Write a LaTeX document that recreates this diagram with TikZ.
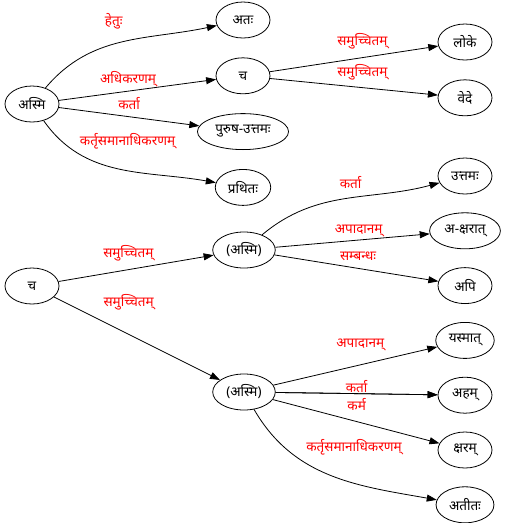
\documentclass[tikz,border=0pt]{standalone}
\usepackage{fontspec}
\setmainfont[Script=Devanagari]{Noto Sans}
\usepackage{tikz}
\usetikzlibrary{positioning, shapes.geometric, arrows.meta}

\begin{document}
\begin{tikzpicture}[x=1pt, y=-1pt, font=\fontsize{13.5}{15}\selectfont,
    word/.style={draw, ellipse, line width=0.8pt, inner xsep=4.5pt, inner ysep=1pt, minimum width=54pt, minimum height=36pt},
    rel/.style={text=red, inner sep=1pt},
    dep/.style={line width=0.8pt, -{Triangle[length=10pt, width=7pt]}},
    node distance=19pt]
  \useasboundingbox (0,0) rectangle (507,523);
  % first sentence
  \node[word] (asmiA) at (32,104) {अस्मि};
  \node[word] (atah) at (243,20) {अतः};
  \node[word, below=of atah] (caA) {च};
  \node[word, below=of caA] (purusha) {पुरुष-उत्तमः};
  \node[word, below=of purusha] (prathita) {प्रथितः};
  \node[word] (loke) at (465,42) {लोके};
  \node[word, below=of loke] (vede) {वेदे};
  % second sentence
  \node[word] (caB) at (32,286) {च};
  \node[word] (asmiB) at (244,250) {(अस्मि)};
  \node[word] (asmiC) at (244,392) {(अस्मि)};
  \node[word] (uttama) at (465,176) {उत्तमः};
  \node[word, below=18pt of uttama] (aksharat) {अ-क्षरात्};
  \node[word, below=18pt of aksharat] (api) {अपि};
  \node[word, below=18pt of api] (yasmat) {यस्मात्};
  \node[word, below=18pt of yasmat] (aham) {अहम्};
  \node[word, below=18pt of aham] (ksharam) {क्षरम्};
  \node[word, below=18pt of ksharam] (atita) {अतीतः};

  \draw[dep] (asmiA) to[out=50, in=192] node[rel, pos=0.45, above=14pt] (hetu) {हेतुः} (atah);
  \draw[dep] (asmiA) -- node[rel, pos=0.44, above=3pt] (adhikarana) {अधिकरणम्} (caA);
  \draw[dep] (asmiA) -- node[rel, pos=0.5, above=6pt] (kartaA) {कर्ता} (purusha);
  \draw[dep] (asmiA) to[out=-55, in=170] node[rel, pos=0.55, above=20pt] (samanaA) {कर्तृसमानाधिकरणम्} (prathita);
  \draw[dep] (caA) -- node[rel, pos=0.55, above=7pt] (samuA) {समुच्चितम्} (loke);
  \draw[dep] (caA) -- node[rel, pos=0.55, above=6pt] (samuB) {समुच्चितम्} (vede);

  \draw[dep] (caB) -- node[rel, pos=0.45, above=7pt] (samuC) {समुच्चितम्} (asmiB);
  \draw[dep] (caB) -- node[rel, pos=0.45, above=23pt] (samuD) {समुच्चितम्} (asmiC);
  \draw[dep] (asmiB) to[out=40, in=195] node[rel, pos=0.53, above=8pt] (kartaB) {कर्ता} (uttama);
  \draw[dep] (asmiB) -- node[rel, pos=0.54, above=2pt] (apadanaA) {अपादानम्} (aksharat);
  \draw[dep] (asmiB) -- node[rel, pos=0.51, above=6pt] (sambandha) {सम्बन्धः} (api);
  \draw[dep] (asmiC) -- node[rel, pos=0.53, above=13pt] (apadanaB) {अपादानम्} (yasmat);
  \draw[dep] (asmiC) -- node[rel, pos=0.5, above=0pt] (kartaC) {कर्ता} (aham);
  \draw[dep] (asmiC) -- node[rel, pos=0.5, below=3pt] (karma) {कर्म} (aham);
  \draw[dep] (asmiC) -- (ksharam);
  \draw[dep] (asmiC) to[out=-60, in=170] node[rel, pos=0.62, above=27pt] (samanaB) {कर्तृसमानाधिकरणम्} (atita);
\end{tikzpicture}
\end{document}
